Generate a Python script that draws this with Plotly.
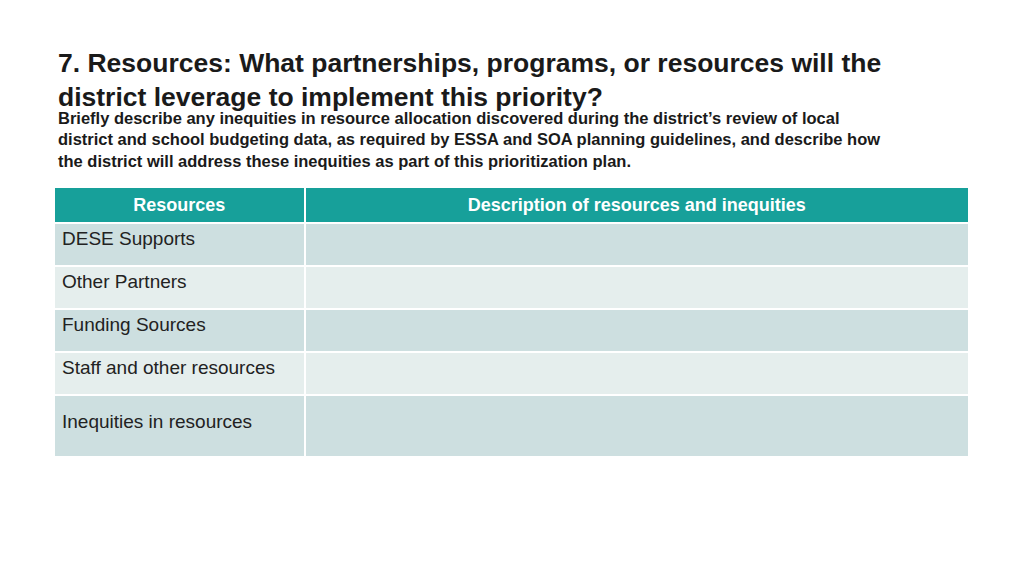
import plotly.graph_objects as go

header = ["Resources", "Description of resources and inequities"]
resources = ["DESE Supports", "Other Partners", "Funding Sources",
             "Staff and other resources", "<br>Inequities in resources<br> "]
descriptions = ["", "", "", "", ""]
row_colors = ["#cddfe0", "#e5eeed", "#cddfe0", "#e5eeed", "#cddfe0"]

title = "7. Resources: What partnerships, programs, or resources will the<br>district leverage to implement this priority?"
subtitle = ("Briefly describe any inequities in resource allocation discovered during the district’s review of local<br>"
            "district and school budgeting data, as required by ESSA and SOA planning guidelines, and describe how<br>"
            "the district will address these inequities as part of this prioritization plan.")

fig = go.Figure(go.Table(
    domain=dict(x=[46/1024, 961/1024], y=[0, 1 - 179/576]),
    columnwidth=[250, 663],
    header=dict(values=["<b>%s</b>" % h for h in header],
                fill_color="#17a09a", line=dict(color="white", width=2),
                font=dict(color="white", size=18, family="Liberation Sans"),
                align="center", height=31),
    cells=dict(values=[resources, descriptions],
               fill_color=[row_colors, row_colors],
               line=dict(color="white", width=2),
               font=dict(color="#222222", size=19, family="Liberation Sans"),
               align="left", height=43),
))

fig.add_annotation(x=48/1024, y=1 - 38/576, xref="paper", yref="paper",
                   xanchor="left", yanchor="top", align="left", showarrow=False,
                   text="<b>%s</b>" % title,
                   font=dict(size=26.5, color="#1a1a1a", family="Liberation Sans Narrow, Liberation Sans"))
fig.add_annotation(x=48/1024, y=1 - 99/576, xref="paper", yref="paper",
                   xanchor="left", yanchor="top", align="left", showarrow=False,
                   text="<b>%s</b>" % subtitle,
                   font=dict(size=16.5, color="#1a1a1a", family="Liberation Sans Narrow, Liberation Sans"))

fig.update_layout(width=1024, height=576, margin=dict(l=0, r=0, t=0, b=0),
                  paper_bgcolor="white", plot_bgcolor="white")
fig.write_html("out.html")
